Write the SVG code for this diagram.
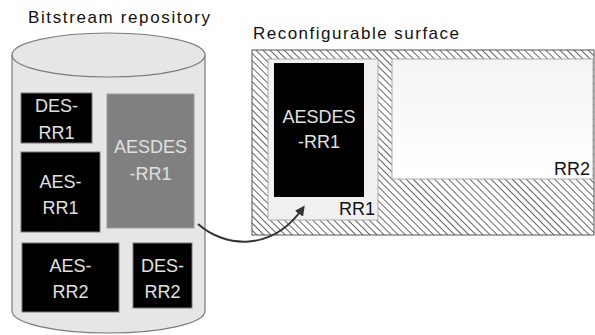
<svg xmlns="http://www.w3.org/2000/svg" width="595" height="335" viewBox="0 0 595 335">
  <defs>
    <pattern id="hatch" patternUnits="userSpaceOnUse" width="5" height="5" patternTransform="rotate(-45)">
      <rect width="5" height="5" fill="#ffffff"/>
      <line x1="0" y1="0" x2="0" y2="5" stroke="#333333" stroke-width="1.5"/>
    </pattern>
    <linearGradient id="rr2grad" x1="0" y1="0" x2="0" y2="1">
      <stop offset="0" stop-color="#f4f4f4"/>
      <stop offset="1" stop-color="#ffffff"/>
    </linearGradient>
    <marker id="arrow" markerWidth="10" markerHeight="10" refX="7" refY="5" orient="auto" markerUnits="userSpaceOnUse">
      <path d="M0,0 L10,5 L0,10 Z" fill="#333333"/>
    </marker>
    <style>
      text { font-family: "Liberation Sans", Arial, sans-serif; }
      .title { font-size: 17px; fill: #111111; }
      .lbl { font-size: 18px; fill: #e0e0e0; text-anchor: middle; }
      .rr { font-size: 18px; fill: #111111; text-anchor: end; }
      .blk { fill: #000000; stroke: #777777; stroke-width: 1; }
    </style>
  </defs>

  <rect width="595" height="335" fill="#ffffff"/>

  <g id="repository">
    <text class="title" x="28" y="23" textLength="182" lengthAdjust="spacing">Bitstream repository</text>
    <path d="M12,55 L12,311 A96.5,22 0 0 0 205,311 L205,55" fill="#e6e6e6" stroke="#7a7a7a" stroke-width="1.2"/>
    <ellipse cx="108.5" cy="55" rx="96.5" ry="22" fill="#e6e6e6" stroke="#7a7a7a" stroke-width="1.2"/>
  </g>

  <g id="des-rr1">
    <rect class="blk" x="21" y="93" width="71" height="50"/>
    <text class="lbl" x="56.5" y="112">DES-</text>
    <text class="lbl" x="56.5" y="139">RR1</text>
  </g>
  <g id="aes-rr1">
    <rect class="blk" x="21" y="152" width="79" height="80"/>
    <text class="lbl" x="60.5" y="188">AES-</text>
    <text class="lbl" x="60.5" y="214">RR1</text>
  </g>
  <g id="aesdes-rr1-bitstream">
    <rect x="107" y="94" width="87" height="134" fill="#808080" stroke="#9a9a9a" stroke-width="1"/>
    <text class="lbl" x="150.5" y="153" fill="#d8d8d8">AESDES</text>
    <text class="lbl" x="150.5" y="180">-RR1</text>
  </g>
  <g id="aes-rr2">
    <rect class="blk" x="22" y="243" width="97" height="69"/>
    <text class="lbl" x="70.5" y="272">AES-</text>
    <text class="lbl" x="70.5" y="298">RR2</text>
  </g>
  <g id="des-rr2">
    <rect class="blk" x="133" y="243" width="59" height="65"/>
    <text class="lbl" x="162.5" y="272">DES-</text>
    <text class="lbl" x="162.5" y="298">RR2</text>
  </g>

  <g id="surface">
    <text class="title" x="253" y="39" textLength="206" lengthAdjust="spacing">Reconfigurable surface</text>
    <rect x="252" y="50" width="342" height="185" fill="url(#hatch)" stroke="#555555" stroke-width="1"/>
  </g>

  <g id="rr1">
    <rect x="268" y="59" width="110" height="161" fill="#f0f0f0" stroke="#aaaaaa" stroke-width="1"/>
    <text class="rr" x="375" y="215">RR1</text>
  </g>
  <g id="aesdes-rr1-loaded">
    <rect x="274" y="63" width="90" height="134" fill="#000000"/>
    <text class="lbl" x="319" y="123">AESDES</text>
    <text class="lbl" x="319" y="148">-RR1</text>
  </g>
  <g id="rr2">
    <rect x="392" y="59" width="201" height="120" fill="url(#rr2grad)" stroke="#aaaaaa" stroke-width="1"/>
    <text class="rr" x="590" y="175">RR2</text>
  </g>

  <g id="connectors">
    <path d="M198,224 C225,248 272,252 303,208" fill="none" stroke="#333333" stroke-width="2" marker-end="url(#arrow)"/>
  </g>
</svg>
